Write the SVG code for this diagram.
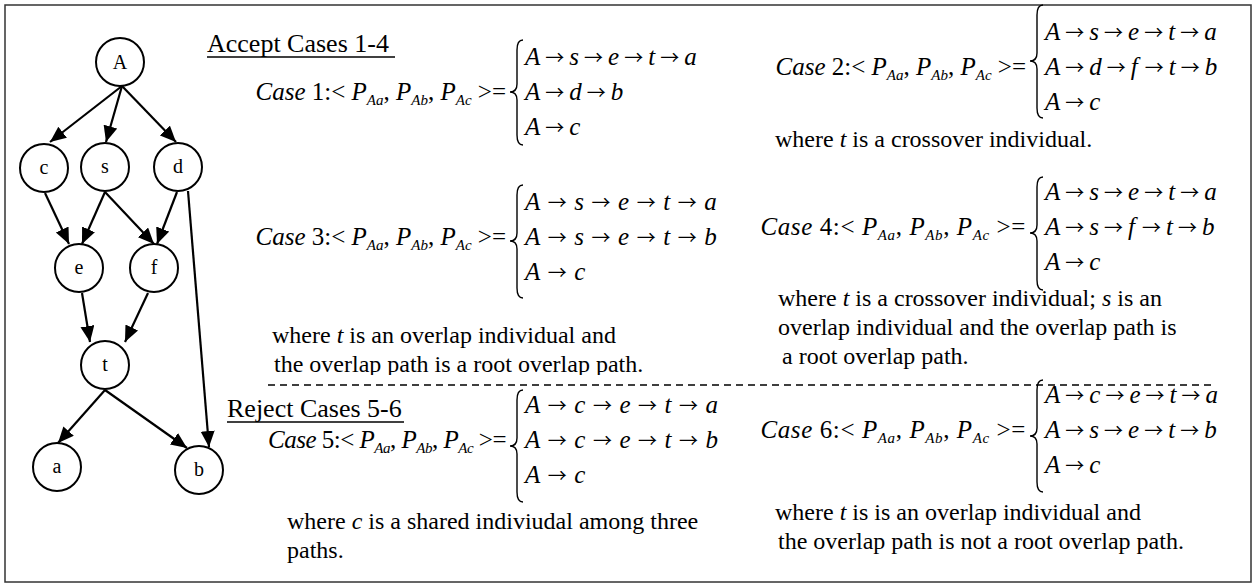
<svg xmlns="http://www.w3.org/2000/svg" width="1257" height="586" viewBox="0 0 1257 586">
<style>
.tx{font-family:"Liberation Serif","Times New Roman","DejaVu Serif",serif;font-size:24px;fill:#000}
.f{font-family:"Liberation Serif","Times New Roman","DejaVu Serif",serif;font-size:25px;fill:#000}
.wide{letter-spacing:0.6px}
.narrow{letter-spacing:-0.5px}
.h{font-family:"Liberation Serif","Times New Roman","DejaVu Serif",serif;font-size:26px;fill:#000}
.i{font-style:italic}
.s{font-style:italic;font-size:15px}
.ar{font-family:"Noto Sans CJK JP","DejaVu Sans",sans-serif;font-size:19px;font-style:normal;letter-spacing:0}
.nl{font-family:"Liberation Serif","Times New Roman","DejaVu Serif",serif;font-size:20px;fill:#000;text-anchor:middle}
.node circle{fill:#fff;stroke:#000;stroke-width:2}
.edge line{stroke:#000;stroke-width:2.2;marker-end:url(#ah)}
.br{fill:none;stroke:#000;stroke-width:1.4}
.ul{stroke:#000;stroke-width:1.6}
</style>
<defs>
<marker id="ah" markerUnits="userSpaceOnUse" markerWidth="17" markerHeight="15" refX="16" refY="7" orient="auto"><path d="M0,0 L16,7 L0,14 z" fill="#000"/></marker>
<clipPath id="clip3"><rect x="200" y="320" width="520" height="55"/></clipPath>
</defs>
<rect x="5" y="5" width="1246" height="577" fill="#fff" stroke="#333" stroke-width="1.5"/>

<g id="connectors" class="edge">
<line x1="122" y1="86" x2="50" y2="142"/>
<line x1="122" y1="86" x2="106" y2="142"/>
<line x1="122" y1="86" x2="176" y2="142"/>
<line x1="45" y1="193" x2="69" y2="244"/>
<line x1="105" y1="192" x2="82" y2="244"/>
<line x1="105" y1="192" x2="154" y2="244"/>
<line x1="177" y1="192" x2="157" y2="244"/>
<line x1="188" y1="191" x2="209" y2="447"/>
<line x1="82" y1="293" x2="90" y2="342"/>
<line x1="148" y1="293" x2="125" y2="342"/>
<line x1="105" y1="390" x2="58" y2="443"/>
<line x1="105" y1="390" x2="187" y2="448"/>
</g>

<g id="node-A" class="node"><circle cx="120" cy="62" r="24"/><text class="nl" x="120" y="69">A</text></g>
<g id="node-c" class="node"><circle cx="44" cy="168" r="24"/><text class="nl" x="44" y="174">c</text></g>
<g id="node-s" class="node"><circle cx="105" cy="167" r="24"/><text class="nl" x="105" y="173">s</text></g>
<g id="node-d" class="node"><circle cx="178" cy="167" r="24"/><text class="nl" x="178" y="173">d</text></g>
<g id="node-e" class="node"><circle cx="79" cy="268" r="24"/><text class="nl" x="79" y="274">e</text></g>
<g id="node-f" class="node"><circle cx="154" cy="268" r="24"/><text class="nl" x="154" y="274">f</text></g>
<g id="node-t" class="node"><circle cx="105" cy="365" r="24"/><text class="nl" x="105" y="371">t</text></g>
<g id="node-a" class="node"><circle cx="57" cy="467" r="24"/><text class="nl" x="57" y="473">a</text></g>
<g id="node-b" class="node"><circle cx="199" cy="470" r="24"/><text class="nl" x="199" y="476">b</text></g>

<g id="heading-accept">
<text class="h" x="207" y="52">Accept Cases 1-4</text>
<line class="ul" x1="207" y1="57" x2="395" y2="57"/>
</g>

<g id="case1">
<text class="f" x="506" y="100" text-anchor="end"><tspan class="i">Case</tspan> 1:&lt; <tspan class="i">P</tspan><tspan class="s" dy="5">Aa</tspan><tspan dy="-5">, </tspan><tspan class="i">P</tspan><tspan class="s" dy="5">Ab</tspan><tspan dy="-5">, </tspan><tspan class="i">P</tspan><tspan class="s" dy="5">Ac</tspan><tspan dy="-5"> &gt;=</tspan></text>
<path class="br" d="M523,40 Q517,40 517,50 L517,84 Q517,92 510,92 Q517,92 517,100 L517,135 Q517,145 523,145"/>
<text class="f" x="525" y="65"><tspan class="i">A</tspan><tspan class="ar" dx="5">→</tspan><tspan class="i" dx="5">s</tspan><tspan class="ar" dx="5">→</tspan><tspan class="i" dx="5">e</tspan><tspan class="ar" dx="5">→</tspan><tspan class="i" dx="5">t</tspan><tspan class="ar" dx="5">→</tspan><tspan class="i" dx="5">a</tspan></text>
<text class="f" x="525" y="100"><tspan class="i">A</tspan><tspan class="ar" dx="5">→</tspan><tspan class="i" dx="5">d</tspan><tspan class="ar" dx="5">→</tspan><tspan class="i" dx="5">b</tspan></text>
<text class="f" x="525" y="135"><tspan class="i">A</tspan><tspan class="ar" dx="5">→</tspan><tspan class="i" dx="5">c</tspan></text>
</g>

<g id="case2">
<text class="f" x="1026" y="75" text-anchor="end"><tspan class="i">Case</tspan> 2:&lt; <tspan class="i">P</tspan><tspan class="s" dy="5">Aa</tspan><tspan dy="-5">, </tspan><tspan class="i">P</tspan><tspan class="s" dy="5">Ab</tspan><tspan dy="-5">, </tspan><tspan class="i">P</tspan><tspan class="s" dy="5">Ac</tspan><tspan dy="-5"> &gt;=</tspan></text>
<path class="br" d="M1043,5 Q1037,5 1037,15 L1037,53 Q1037,61 1030,61 Q1037,61 1037,69 L1037,108 Q1037,118 1043,118"/>
<text class="f" x="1045" y="40"><tspan class="i">A</tspan><tspan class="ar" dx="5">→</tspan><tspan class="i" dx="5">s</tspan><tspan class="ar" dx="5">→</tspan><tspan class="i" dx="5">e</tspan><tspan class="ar" dx="5">→</tspan><tspan class="i" dx="5">t</tspan><tspan class="ar" dx="5">→</tspan><tspan class="i" dx="5">a</tspan></text>
<text class="f" x="1045" y="75"><tspan class="i">A</tspan><tspan class="ar" dx="5">→</tspan><tspan class="i" dx="5">d</tspan><tspan class="ar" dx="5">→</tspan><tspan class="i" dx="5">f</tspan><tspan class="ar" dx="7">→</tspan><tspan class="i" dx="5">t</tspan><tspan class="ar" dx="5">→</tspan><tspan class="i" dx="5">b</tspan></text>
<text class="f" x="1045" y="110"><tspan class="i">A</tspan><tspan class="ar" dx="5">→</tspan><tspan class="i" dx="5">c</tspan></text>
<text class="tx" x="775" y="147">where <tspan class="i">t</tspan> is a crossover individual.</text>
</g>

<g id="case3">
<text class="f" x="506" y="245" text-anchor="end"><tspan class="i">Case</tspan> 3:&lt; <tspan class="i">P</tspan><tspan class="s" dy="5">Aa</tspan><tspan dy="-5">, </tspan><tspan class="i">P</tspan><tspan class="s" dy="5">Ab</tspan><tspan dy="-5">, </tspan><tspan class="i">P</tspan><tspan class="s" dy="5">Ac</tspan><tspan dy="-5"> &gt;=</tspan></text>
<path class="br" d="M523,185 Q517,185 517,195 L517,233 Q517,241 510,241 Q517,241 517,249 L517,288 Q517,298 523,298"/>
<text class="f" x="525" y="210"><tspan class="i">A</tspan><tspan class="ar" dx="7.5">→</tspan><tspan class="i" dx="7.5">s</tspan><tspan class="ar" dx="7.5">→</tspan><tspan class="i" dx="7.5">e</tspan><tspan class="ar" dx="7.5">→</tspan><tspan class="i" dx="7.5">t</tspan><tspan class="ar" dx="7.5">→</tspan><tspan class="i" dx="7.5">a</tspan></text>
<text class="f" x="525" y="245"><tspan class="i">A</tspan><tspan class="ar" dx="7.5">→</tspan><tspan class="i" dx="7.5">s</tspan><tspan class="ar" dx="7.5">→</tspan><tspan class="i" dx="7.5">e</tspan><tspan class="ar" dx="7.5">→</tspan><tspan class="i" dx="7.5">t</tspan><tspan class="ar" dx="7.5">→</tspan><tspan class="i" dx="7.5">b</tspan></text>
<text class="f" x="525" y="280"><tspan class="i">A</tspan><tspan class="ar" dx="7.5">→</tspan><tspan class="i" dx="7.5">c</tspan></text>
<text class="tx" x="272" y="343">where <tspan class="i">t</tspan> is an overlap individual and</text>
<text class="tx" x="274" y="372" clip-path="url(#clip3)">the overlap path is a root overlap path.</text>
</g>

<g id="case4">
<text class="f wide" x="1026" y="235" text-anchor="end"><tspan class="i">Case</tspan> 4:&lt; <tspan class="i">P</tspan><tspan class="s" dy="5">Aa</tspan><tspan dy="-5">, </tspan><tspan class="i">P</tspan><tspan class="s" dy="5">Ab</tspan><tspan dy="-5">, </tspan><tspan class="i">P</tspan><tspan class="s" dy="5">Ac</tspan><tspan dy="-5"> &gt;=</tspan></text>
<path class="br" d="M1043,177 Q1037,177 1037,187 L1037,225 Q1037,233 1030,233 Q1037,233 1037,241 L1037,280 Q1037,290 1043,290"/>
<text class="f" x="1045" y="200"><tspan class="i">A</tspan><tspan class="ar" dx="5">→</tspan><tspan class="i" dx="5">s</tspan><tspan class="ar" dx="5">→</tspan><tspan class="i" dx="5">e</tspan><tspan class="ar" dx="5">→</tspan><tspan class="i" dx="5">t</tspan><tspan class="ar" dx="5">→</tspan><tspan class="i" dx="5">a</tspan></text>
<text class="f" x="1045" y="235"><tspan class="i">A</tspan><tspan class="ar" dx="5">→</tspan><tspan class="i" dx="5">s</tspan><tspan class="ar" dx="5">→</tspan><tspan class="i" dx="5">f</tspan><tspan class="ar" dx="7">→</tspan><tspan class="i" dx="5">t</tspan><tspan class="ar" dx="5">→</tspan><tspan class="i" dx="5">b</tspan></text>
<text class="f" x="1045" y="270"><tspan class="i">A</tspan><tspan class="ar" dx="5">→</tspan><tspan class="i" dx="5">c</tspan></text>
<text class="tx" x="778" y="306">where <tspan class="i">t</tspan> is a crossover individual;  <tspan class="i">s</tspan> is an</text>
<text class="tx" x="778" y="335">overlap individual and the overlap path is</text>
<text class="tx" x="782" y="364">a root overlap path.</text>
</g>

<line id="separator" x1="268" y1="385" x2="1215" y2="385" stroke="#000" stroke-width="1.5" stroke-dasharray="7,5"/>

<g id="heading-reject">
<text class="h" x="227" y="417">Reject Cases 5-6</text>
<line class="ul" x1="227" y1="422" x2="404" y2="422"/>
</g>

<g id="case5">
<text class="f narrow" x="506" y="448" text-anchor="end"><tspan class="i">Case</tspan> 5:&lt; <tspan class="i">P</tspan><tspan class="s" dy="5">Aa</tspan><tspan dy="-5">, </tspan><tspan class="i">P</tspan><tspan class="s" dy="5">Ab</tspan><tspan dy="-5">, </tspan><tspan class="i">P</tspan><tspan class="s" dy="5">Ac</tspan><tspan dy="-5"> &gt;=</tspan></text>
<path class="br" d="M523,390 Q517,390 517,400 L517,438 Q517,446 510,446 Q517,446 517,454 L517,492 Q517,502 523,502"/>
<text class="f" x="525" y="413"><tspan class="i">A</tspan><tspan class="ar" dx="7.5">→</tspan><tspan class="i" dx="7.5">c</tspan><tspan class="ar" dx="7.5">→</tspan><tspan class="i" dx="7.5">e</tspan><tspan class="ar" dx="7.5">→</tspan><tspan class="i" dx="7.5">t</tspan><tspan class="ar" dx="7.5">→</tspan><tspan class="i" dx="7.5">a</tspan></text>
<text class="f" x="525" y="448"><tspan class="i">A</tspan><tspan class="ar" dx="7.5">→</tspan><tspan class="i" dx="7.5">c</tspan><tspan class="ar" dx="7.5">→</tspan><tspan class="i" dx="7.5">e</tspan><tspan class="ar" dx="7.5">→</tspan><tspan class="i" dx="7.5">t</tspan><tspan class="ar" dx="7.5">→</tspan><tspan class="i" dx="7.5">b</tspan></text>
<text class="f" x="525" y="483"><tspan class="i">A</tspan><tspan class="ar" dx="7.5">→</tspan><tspan class="i" dx="7.5">c</tspan></text>
<text class="tx" x="287" y="529">where <tspan class="i">c</tspan> is a shared indiviudal among three</text>
<text class="tx" x="287" y="558">paths.</text>
</g>

<g id="case6">
<text class="f wide" x="1026" y="438" text-anchor="end"><tspan class="i">Case</tspan> 6:&lt; <tspan class="i">P</tspan><tspan class="s" dy="5">Aa</tspan><tspan dy="-5">, </tspan><tspan class="i">P</tspan><tspan class="s" dy="5">Ab</tspan><tspan dy="-5">, </tspan><tspan class="i">P</tspan><tspan class="s" dy="5">Ac</tspan><tspan dy="-5"> &gt;=</tspan></text>
<path class="br" d="M1043,380 Q1037,380 1037,390 L1037,428 Q1037,436 1030,436 Q1037,436 1037,444 L1037,482 Q1037,492 1043,492"/>
<text class="f" x="1045" y="403"><tspan class="i">A</tspan><tspan class="ar" dx="5">→</tspan><tspan class="i" dx="5">c</tspan><tspan class="ar" dx="5">→</tspan><tspan class="i" dx="5">e</tspan><tspan class="ar" dx="5">→</tspan><tspan class="i" dx="5">t</tspan><tspan class="ar" dx="5">→</tspan><tspan class="i" dx="5">a</tspan></text>
<text class="f" x="1045" y="438"><tspan class="i">A</tspan><tspan class="ar" dx="5">→</tspan><tspan class="i" dx="5">s</tspan><tspan class="ar" dx="5">→</tspan><tspan class="i" dx="5">e</tspan><tspan class="ar" dx="5">→</tspan><tspan class="i" dx="5">t</tspan><tspan class="ar" dx="5">→</tspan><tspan class="i" dx="5">b</tspan></text>
<text class="f" x="1045" y="473"><tspan class="i">A</tspan><tspan class="ar" dx="5">→</tspan><tspan class="i" dx="5">c</tspan></text>
<text class="tx" x="775" y="520">where <tspan class="i">t</tspan> is is an overlap individual and</text>
<text class="tx" x="778" y="549">the overlap path is not a root overlap path.</text>
</g>
</svg>
